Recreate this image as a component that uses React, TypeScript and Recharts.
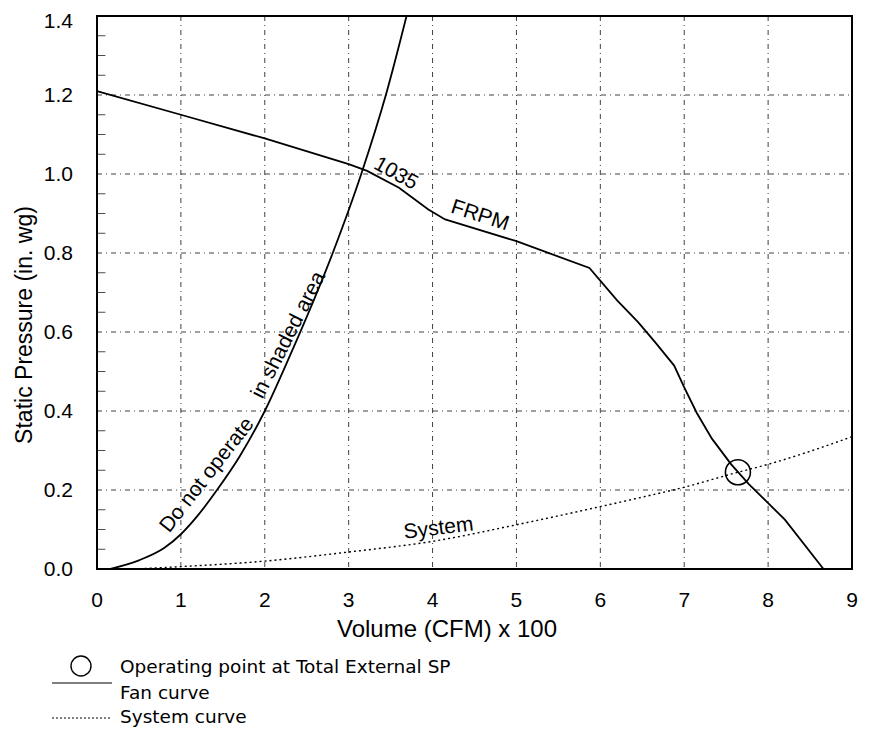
import React from 'react';
import {
  LineChart,
  Line,
  XAxis,
  YAxis,
  CartesianGrid,
  ReferenceArea,
  ReferenceDot,
  ReferenceLine,
} from 'recharts';

// ---- data ----
const xTicks = [0, 1, 2, 3, 4, 5, 6, 7, 8, 9];
const yTicks = [0, 0.2, 0.4, 0.6, 0.8, 1.0, 1.2, 1.4];
const minorYTicks = [0.05, 0.1, 0.15, 0.25, 0.3, 0.35, 0.45, 0.5, 0.55, 0.65, 0.7, 0.75, 0.85, 0.9, 0.95, 1.05, 1.1, 1.15, 1.25, 1.3, 1.35];

// Fan curve (1035 RPM)
const fanVolume = [0, 1, 2, 3, 3.22, 3.6, 3.95, 4.15, 5.0, 5.87, 6.2, 6.45, 6.65, 6.88, 7.0, 7.15, 7.33, 7.56, 7.77, 8.2, 8.66];
const fanPressure = [1.21, 1.15, 1.09, 1.025, 1.008, 0.965, 0.91, 0.885, 0.83, 0.762, 0.68, 0.625, 0.575, 0.515, 0.46, 0.395, 0.33, 0.265, 0.215, 0.125, 0.0];

// "Do not operate" boundary curve
const limitVolume = [0.15, 0.5, 0.8, 1.0, 1.2, 1.43, 1.7, 2.0, 2.3, 2.81, 3.15, 3.45, 3.69];
const limitPressure = [0.0, 0.022, 0.053, 0.088, 0.135, 0.2, 0.285, 0.4, 0.54, 0.8, 1.0, 1.205, 1.4];

// System curve
const systemVolume = [0.45, 1, 2, 3, 4, 5, 6, 6.46, 7, 7.64, 8, 8.5, 9];
const systemPressure = [0.0, 0.006, 0.02, 0.043, 0.07, 0.112, 0.158, 0.18, 0.207, 0.245, 0.265, 0.298, 0.335];

// Operating point
const operatingVolume = 7.64;
const operatingPressure = 0.245;

// In-plot annotations (text, anchor in data units, rotation)
const annotationText = ['1035', 'FRPM', 'Do not operate', 'in shaded area', 'System'];
const annotationVolume = [3.57, 4.57, 1.3, 2.27, 4.07];
const annotationPressure = [1.004, 0.898, 0.24, 0.594, 0.106];
const annotationAngle = [29, 18, -52, -63, -7];

const fanData = fanVolume.map((v, i) => ({ v, p: fanPressure[i] }));
const limitData = limitVolume.map((v, i) => ({ v, p: limitPressure[i] }));
const systemData = systemVolume.map((v, i) => ({ v, p: systemPressure[i] }));

const FONT = '"Liberation Sans", Arial, Helvetica, sans-serif';
const LEGEND_FONT = '"DejaVu Sans", Verdana, Tahoma, sans-serif';

export default function App() {
  return (
    <div style={{ position: 'relative', width: 866, height: 721, background: '#fff' }}>
      <LineChart
        width={866}
        height={650}
        margin={{ top: 8, right: 22, left: 0, bottom: 0 }}
      >
        <CartesianGrid
          stroke="#000"
          strokeOpacity={0.75}
          strokeDasharray="5 4 1 4"
          strokeWidth={1}
        />
        <XAxis
          type="number"
          dataKey="v"
          domain={[0, 9]}
          ticks={xTicks}
          height={89}
          axisLine={false}
          tickLine={false}
          tickSize={6}
          tickMargin={17}
          tick={{ fontSize: 21, fill: '#000', fontFamily: FONT }}
          label={() => (
            <text x={439} y={629} textAnchor="middle" fontSize={24} fontFamily={FONT} fill="#000">
              Volume (CFM) x 100
            </text>
          )}
        />
        <YAxis
          type="number"
          domain={[0, 1.4]}
          ticks={yTicks}
          width={89}
          axisLine={false}
          tickLine={false}
          tickSize={6}
          tickMargin={18}
          tickFormatter={(v: number) => v.toFixed(1)}
          tick={{ fontSize: 21, fill: '#000', fontFamily: FONT }}
          label={() => (
            <text
              x={16}
              y={317}
              transform="rotate(-90 16 317)"
              textAnchor="middle"
              dominantBaseline="central"
              fontSize={23}
              fontFamily={FONT}
              fill="#000"
            >
              Static Pressure (in. wg)
            </text>
          )}
        />
        {minorYTicks.map((t) => (
          <ReferenceLine
            key={'m' + t}
            segment={[{ x: 0, y: t }, { x: 0.1, y: t }]}
            stroke="#000"
            strokeWidth={1}
            strokeOpacity={0.7}
          />
        ))}
        <Line
          data={systemData}
          dataKey="p"
          type="monotone"
          stroke="#000"
          strokeWidth={1.4}
          strokeDasharray="2 3"
          dot={false}
          isAnimationActive={false}
        />
        <Line
          data={limitData}
          dataKey="p"
          type="monotone"
          stroke="#000"
          strokeWidth={1.8}
          dot={false}
          isAnimationActive={false}
        />
        <Line
          data={fanData}
          dataKey="p"
          type="linear"
          stroke="#000"
          strokeWidth={1.8}
          dot={false}
          isAnimationActive={false}
        />
        <ReferenceArea
          x1={0}
          x2={9}
          y1={0}
          y2={1.4}
          fill="none"
          fillOpacity={0}
          stroke="#000"
          strokeWidth={2}
        />
        <ReferenceDot
          x={operatingVolume}
          y={operatingPressure}
          r={12.5}
          fill="none"
          stroke="#000"
          strokeWidth={1.6}
        />
        {annotationText.map((t, i) => (
          <ReferenceDot
            key={t}
            x={annotationVolume[i]}
            y={annotationPressure[i]}
            r={0}
            shape={(props: any) => (
              <text
                x={props.cx}
                y={props.cy}
                transform={`rotate(${annotationAngle[i]} ${props.cx} ${props.cy})`}
                textAnchor="middle"
                dominantBaseline="central"
                fontSize={21}
                fontFamily={FONT}
                fill="#000"
              >
                {t}
              </text>
            )}
          />
        ))}
      </LineChart>
      <svg
        width={520}
        height={80}
        style={{ position: 'absolute', left: 0, top: 641 }}
      >
        <circle cx={73} cy={17} r={10} fill="none" stroke="#000" strokeWidth={1.4} />
        <text x={112} y={17} dominantBaseline="central" fontSize={18.5} fontFamily={LEGEND_FONT} fill="#000">
          Operating point at Total External SP
        </text>
        <line x1={44} y1={34} x2={104} y2={34} stroke="#000" strokeWidth={1.2} />
        <text x={112} y={43} dominantBaseline="central" fontSize={18.5} fontFamily={LEGEND_FONT} fill="#000">
          Fan curve
        </text>
        <line x1={44} y1={69} x2={104} y2={69} stroke="#000" strokeWidth={1.2} strokeDasharray="2 2" />
        <text x={112} y={67} dominantBaseline="central" fontSize={18.5} fontFamily={LEGEND_FONT} fill="#000">
          System curve
        </text>
      </svg>
    </div>
  );
}
